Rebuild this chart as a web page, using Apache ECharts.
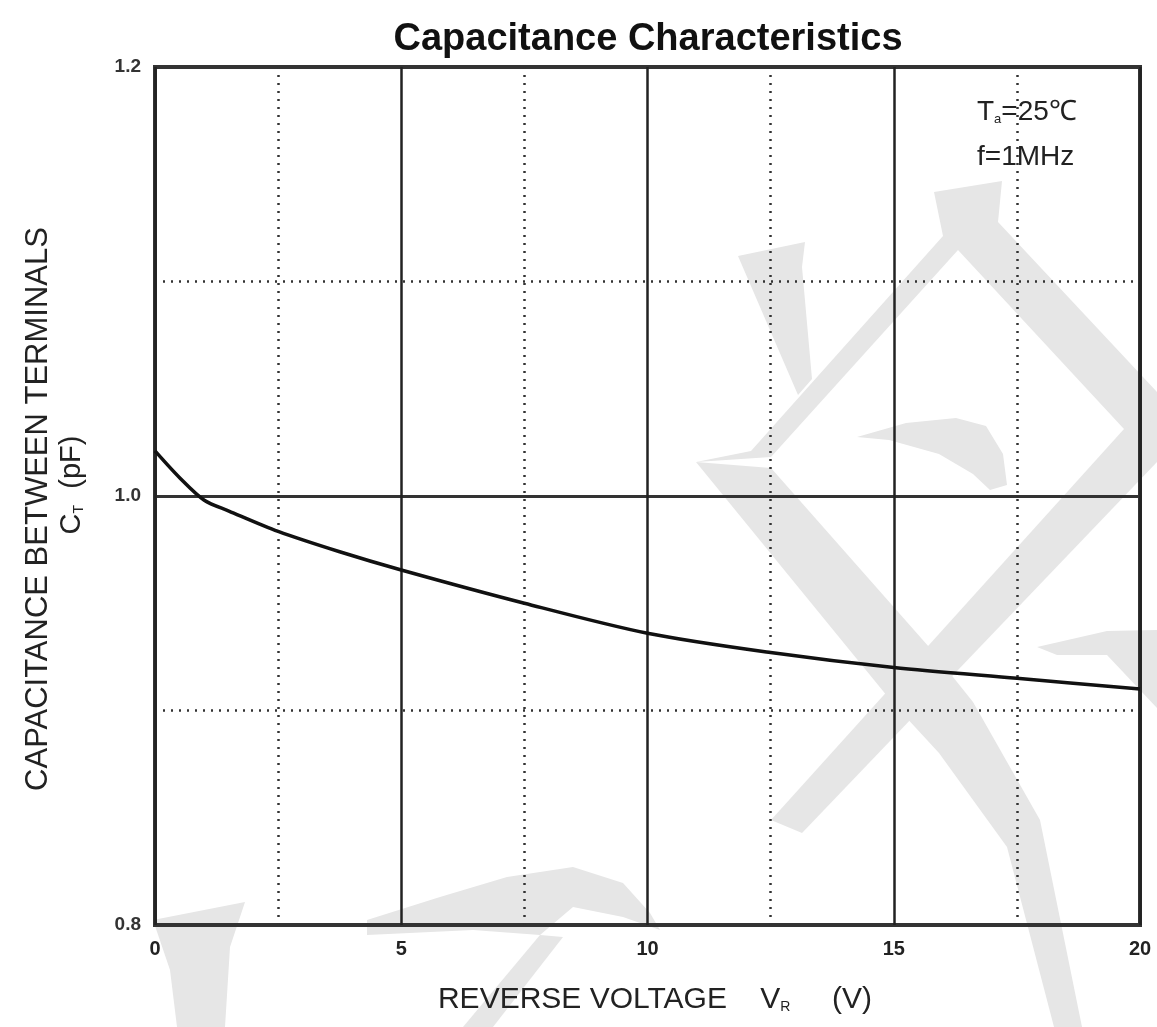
<!DOCTYPE html>
<html>
<head>
<meta charset="utf-8">
<script src="https://cdn.jsdelivr.net/npm/echarts@6/dist/echarts.min.js"></script>
<style>html,body{margin:0;padding:0;background:#fff}#c{width:1157px;height:1027px}</style>
</head>
<body>
<div id="c"></div>
<script>
var voltage = [0, 0.5, 1, 1.5, 2.5, 3.75, 5, 7.5, 10, 12.5, 15, 17.5, 20];
var capacitance = [1.021, 1.0085, 0.998, 0.993, 0.9835, 0.974, 0.9655, 0.950, 0.936, 0.927, 0.920, 0.915, 0.910];
var xTicks = ['0', '5', '10', '15', '20'];
var yTicks = ['0.8', '1.0', '1.2'];

var chart = echarts.init(document.getElementById('c'));
var FONT = '"Liberation Sans", Arial, sans-serif';
var WM = '#e6e6e6';
var data = voltage.map(function (v, i) { return [v, capacitance[i]]; });

function wm(points) {
  return { type: 'polygon', z: -100, silent: true, shape: { points: points, smooth: 0 }, style: { fill: WM } };
}

chart.setOption({
  backgroundColor: '#fff',
  animation: false,
  title: {
    text: 'Capacitance Characteristics',
    left: 643, top: 16, textAlign: 'center',
    textStyle: { fontFamily: FONT, fontSize: 38, fontWeight: 'bold', color: '#111' }
  },
  grid: { left: 155, right: 17, top: 67, bottom: 102, show: true, borderColor: '#333', borderWidth: 4, backgroundColor: 'transparent' },
  xAxis: {
    type: 'value', min: 0, max: 20, interval: 5,
    axisLine: { show: false }, axisTick: { show: false },
    axisLabel: {
      margin: 14, fontFamily: FONT, fontSize: 20, fontWeight: 'bold', color: '#222',
      formatter: function (v) { var i = xTicks.indexOf(String(v)); return i >= 0 ? xTicks[i] : ''; }
    },
    splitLine: { show: true, lineStyle: { color: '#222', width: 2.5, type: 'solid' } },
    minorTick: { show: false, splitNumber: 2 },
    minorSplitLine: { show: true, lineStyle: { color: '#333', width: 2.5, type: [2, 6] } }
  },
  yAxis: {
    type: 'value', min: 0.8, max: 1.2, interval: 0.2,
    axisLine: { show: false }, axisTick: { show: false },
    axisLabel: {
      margin: 14, fontFamily: FONT, fontSize: 19, fontWeight: 'bold', color: '#333',
      formatter: function (v) { var s = v.toFixed(1); return yTicks.indexOf(s) >= 0 ? s : ''; }
    },
    splitLine: { show: true, lineStyle: { color: '#333', width: 3, type: 'solid' } },
    minorTick: { show: false, splitNumber: 2 },
    minorSplitLine: { show: true, lineStyle: { color: '#333', width: 2.5, type: [2, 6] } }
  },
  graphic: [
    wm([[738,256],[805,242],[802,267],[812,379],[798,395]]),
    wm([[696,462],[751,451],[943,236],[934,192],[1002,181],[998,222],[1157,392],[1157,454],[1124,429],[958,250],[771,457]]),
    wm([[696,462],[771,468],[929,647],[973,702],[1040,820],[1082,1027],[1054,1027],[1007,847],[939,753],[892,702]]),
    wm([[771,820],[1124,429],[1157,420],[1157,462],[802,833]]),
    wm([[857,437],[906,423],[956,418],[986,426],[1003,454],[1007,485],[990,490],[973,474],[939,454],[889,440]]),
    wm([[1037,647],[1107,631],[1157,630],[1157,708],[1107,655],[1057,655]]),
    wm([[153,920],[245,902],[230,947],[225,1027],[177,1027],[170,970]]),
    wm([[367,920],[440,897],[507,877],[573,867],[623,883],[650,913],[660,930],[623,917],[573,907],[540,935],[473,930],[367,935]]),
    wm([[540,935],[563,937],[493,1027],[463,1027]]),
    {
      type: 'text', x: 38, y: 509, rotation: Math.PI / 2,
      style: { text: 'CAPACITANCE BETWEEN TERMINALS', fontFamily: FONT, fontSize: 31, fill: '#222', align: 'center', verticalAlign: 'middle' }
    },
    {
      type: 'text', x: 72, y: 485, rotation: Math.PI / 2,
      style: {
        text: 'C{s|T}  (pF)', fontFamily: FONT, fontSize: 29, fill: '#222', align: 'center', verticalAlign: 'middle',
        rich: { s: { fontSize: 14, fontFamily: FONT, fill: '#222', padding: [14, 0, 0, 0] } }
      }
    },
    {
      type: 'text', x: 655, y: 1000,
      style: {
        text: 'REVERSE VOLTAGE    V{s|R}     (V)', fontFamily: FONT, fontSize: 30, fill: '#222', align: 'center', verticalAlign: 'middle',
        rich: { s: { fontSize: 14, fontFamily: FONT, fill: '#222', padding: [14, 0, 0, 0] } }
      }
    },
    {
      type: 'text', x: 977, y: 112,
      style: {
        text: 'T{s|a}=25\u2103', fontFamily: FONT, fontSize: 28, fill: '#222', align: 'left', verticalAlign: 'middle',
        rich: { s: { fontSize: 13, fontFamily: FONT, fill: '#222', padding: [14, 0, 0, 0] } }
      }
    },
    {
      type: 'text', x: 977, y: 157,
      style: { text: 'f=1MHz', fontFamily: FONT, fontSize: 28, fill: '#222', align: 'left', verticalAlign: 'middle' }
    }
  ],
  series: [{
    type: 'line', data: data, smooth: 0.3, symbol: 'none',
    lineStyle: { color: '#111', width: 3.5 }, z: 5
  }]
});
</script>
</body>
</html>
